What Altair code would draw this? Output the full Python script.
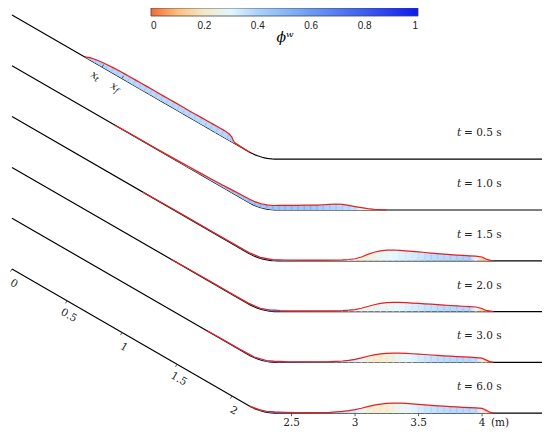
import math
import altair as alt
import pandas as pd

# ---------------- values ----------------
times = ["0.5", "1.0", "1.5", "2.0", "3.0", "6.0"]

incline_deg = 30.0      # slope angle
incline_len = 2.15      # m, straight part of the bed
arc_radius = 0.45       # m, transition radius
bed_len = 4.51          # m, bed length (arc length)
profile_gap = 0.40      # m, vertical offset between snapshots

slope_ticks = [0.0, 0.5, 1.0, 1.5, 2.0]
slope_labels = ["0", "0.5", "1", "1.5", "2"]
flat_ticks = [2.5, 3.0, 3.5, 4.0]
flat_labels = ["2.5", "3", "3.5", "4"]
unit_label = "(m)"

marker_s = [0.82, 1.00]          # x_t and x_f on the t = 0.5 s bed
marker_sub = ["t", "f"]

cbar_values = [0, 0.2, 0.4, 0.6, 0.8, 1]
cmap_pos = [0.0, 0.1, 0.2, 0.3, 0.4, 0.5, 0.6, 0.8, 1.0]
cmap_col = ["#f26a33", "#fbbf7e", "#f3e9c8", "#e2f6fd", "#a9d2fa",
            "#8ab7f7", "#6a9bf3", "#3c5df2", "#0b1af5"]

# snapshot t = 0.5 s  (s along bed [m], thickness h [m], water fraction phi)
s_05 = [0.66, 0.70, 0.75, 0.80, 0.85, 0.90, 0.95, 1.00, 1.05, 1.10, 1.15, 1.20,
        1.25, 1.30, 1.35, 1.40, 1.45, 1.50, 1.55, 1.60, 1.65, 1.70, 1.75, 1.80,
        1.85, 1.90, 1.95, 1.98, 2.00, 2.02, 2.08, 2.16]
h_05 = [0.0, 0.016, 0.026, 0.032, 0.036, 0.039, 0.041, 0.042, 0.043, 0.043, 0.044, 0.044,
        0.044, 0.044, 0.044, 0.045, 0.045, 0.045, 0.045, 0.045, 0.046, 0.046, 0.047, 0.047,
        0.048, 0.048, 0.044, 0.034, 0.018, 0.006, 0.004, 0.0]
p_05 = [0.45, 0.45, 0.44, 0.44, 0.43, 0.43, 0.43, 0.42, 0.42, 0.42, 0.42, 0.42,
        0.42, 0.42, 0.42, 0.42, 0.42, 0.42, 0.42, 0.42, 0.42, 0.42, 0.42, 0.42,
        0.43, 0.43, 0.44, 0.45, 0.45, 0.45, 0.45, 0.45]

# snapshot t = 1.0 s
s_10 = [0.94, 1.10, 1.30, 1.50, 1.60, 1.70, 1.80, 1.90, 1.95, 2.00, 2.05, 2.10,
        2.15, 2.20, 2.25, 2.30, 2.35, 2.40, 2.45, 2.50, 2.55, 2.60, 2.65, 2.70,
        2.75, 2.80, 2.85, 2.90, 2.95, 3.00, 3.05, 3.10, 3.15, 3.20, 3.25]
h_10 = [0.0, 0.003, 0.004, 0.006, 0.008, 0.010, 0.013, 0.016, 0.018, 0.020, 0.022, 0.024,
        0.026, 0.028, 0.030, 0.032, 0.034, 0.036, 0.037, 0.037, 0.037, 0.038, 0.038, 0.039,
        0.041, 0.044, 0.047, 0.044, 0.036, 0.027, 0.018, 0.010, 0.005, 0.003, 0.0]
p_10 = [0.50, 0.50, 0.50, 0.50, 0.50, 0.50, 0.50, 0.50, 0.50, 0.50, 0.50, 0.50,
        0.52, 0.52, 0.52, 0.52, 0.52, 0.52, 0.52, 0.52, 0.52, 0.52, 0.52, 0.50,
        0.48, 0.46, 0.45, 0.42, 0.40, 0.38, 0.30, 0.20, 0.12, 0.10, 0.10]

# snapshot t = 1.5 s
s_15 = [1.19, 1.40, 1.60, 1.80, 2.00, 2.15, 2.25, 2.35, 2.45, 2.60, 2.75, 2.90,
        2.95, 3.00, 3.05, 3.10, 3.15, 3.20, 3.25, 3.30, 3.35, 3.40, 3.45, 3.50,
        3.55, 3.60, 3.65, 3.70, 3.75, 3.80, 3.85, 3.90, 3.95, 4.00, 4.03, 4.06, 4.09]
h_15 = [0.0, 0.003, 0.004, 0.004, 0.005, 0.006, 0.007, 0.008, 0.006, 0.005, 0.005, 0.007,
        0.010, 0.016, 0.030, 0.050, 0.067, 0.078, 0.084, 0.085, 0.082, 0.078, 0.074, 0.070,
        0.065, 0.060, 0.056, 0.052, 0.048, 0.045, 0.042, 0.039, 0.037, 0.030, 0.014, 0.005, 0.0]
p_15 = [0.70, 0.70, 0.70, 0.70, 0.72, 0.75, 0.75, 0.75, 0.70, 0.60, 0.50, 0.40,
        0.30, 0.22, 0.20, 0.22, 0.26, 0.28, 0.29, 0.30, 0.32, 0.33, 0.34, 0.36,
        0.38, 0.40, 0.41, 0.42, 0.43, 0.44, 0.45, 0.45, 0.30, 0.12, 0.10, 0.10, 0.10]

# snapshot t = 2.0 s
s_20 = [1.45, 1.60, 1.80, 2.00, 2.15, 2.25, 2.33, 2.37, 2.41, 2.50, 2.65, 2.80,
        2.90, 2.95, 3.00, 3.05, 3.10, 3.15, 3.20, 3.25, 3.30, 3.35, 3.40, 3.45,
        3.50, 3.55, 3.60, 3.65, 3.70, 3.75, 3.80, 3.85, 3.90, 3.95, 4.00, 4.03, 4.09]
h_20 = [0.0, 0.003, 0.004, 0.004, 0.005, 0.006, 0.009, 0.012, 0.007, 0.005, 0.005, 0.006,
        0.008, 0.011, 0.016, 0.026, 0.040, 0.054, 0.064, 0.070, 0.073, 0.072, 0.070, 0.067,
        0.064, 0.061, 0.058, 0.055, 0.051, 0.048, 0.045, 0.042, 0.039, 0.036, 0.024, 0.009, 0.0]
p_20 = [0.70, 0.70, 0.70, 0.72, 0.75, 0.78, 0.80, 0.80, 0.75, 0.65, 0.55, 0.45,
        0.38, 0.32, 0.30, 0.28, 0.27, 0.27, 0.28, 0.28, 0.29, 0.30, 0.32, 0.34,
        0.35, 0.37, 0.38, 0.40, 0.41, 0.42, 0.42, 0.43, 0.43, 0.30, 0.12, 0.10, 0.10]

# snapshot t = 3.0 s
s_30 = [1.77, 1.90, 2.05, 2.20, 2.30, 2.36, 2.40, 2.45, 2.55, 2.70, 2.80, 2.85,
        2.90, 2.95, 3.00, 3.05, 3.10, 3.15, 3.20, 3.25, 3.30, 3.35, 3.40, 3.45,
        3.50, 3.55, 3.60, 3.65, 3.70, 3.75, 3.80, 3.85, 3.90, 3.95, 4.00, 4.03, 4.06, 4.09]
h_30 = [0.0, 0.003, 0.004, 0.005, 0.007, 0.009, 0.008, 0.006, 0.005, 0.005, 0.006, 0.008,
        0.011, 0.016, 0.024, 0.035, 0.048, 0.059, 0.067, 0.071, 0.073, 0.073, 0.071, 0.068,
        0.065, 0.062, 0.058, 0.055, 0.052, 0.049, 0.046, 0.043, 0.041, 0.038, 0.033, 0.020, 0.006, 0.0]
p_30 = [0.75, 0.75, 0.75, 0.78, 0.80, 0.82, 0.80, 0.75, 0.65, 0.55, 0.48, 0.42,
        0.40, 0.38, 0.35, 0.28, 0.22, 0.20, 0.20, 0.21, 0.23, 0.27, 0.29, 0.31,
        0.34, 0.36, 0.38, 0.39, 0.40, 0.41, 0.42, 0.42, 0.42, 0.40, 0.25, 0.15, 0.12, 0.12]

# snapshot t = 6.0 s
s_60 = [2.16, 2.24, 2.30, 2.36, 2.40, 2.45, 2.55, 2.70, 2.80, 2.85,
        2.90, 2.95, 3.00, 3.05, 3.10, 3.15, 3.20, 3.25, 3.30, 3.35, 3.40, 3.45,
        3.50, 3.55, 3.60, 3.65, 3.70, 3.75, 3.80, 3.85, 3.90, 3.95, 4.00, 4.03, 4.06, 4.09]
h_60 = [0.0, 0.005, 0.007, 0.010, 0.009, 0.007, 0.005, 0.005, 0.007, 0.010,
        0.014, 0.020, 0.028, 0.039, 0.052, 0.064, 0.072, 0.077, 0.079, 0.079, 0.077, 0.074,
        0.070, 0.066, 0.062, 0.058, 0.055, 0.052, 0.049, 0.046, 0.044, 0.042, 0.038, 0.024, 0.008, 0.0]
p_60 = [0.80, 0.80, 0.82, 0.85, 0.82, 0.78, 0.65, 0.55, 0.48, 0.42,
        0.40, 0.38, 0.35, 0.28, 0.22, 0.20, 0.20, 0.21, 0.23, 0.27, 0.29, 0.31,
        0.34, 0.36, 0.38, 0.39, 0.40, 0.41, 0.42, 0.42, 0.42, 0.40, 0.25, 0.15, 0.12, 0.12]

snapshots = [(s_05, h_05, p_05), (s_10, h_10, p_10), (s_15, h_15, p_15),
             (s_20, h_20, p_20), (s_30, h_30, p_30), (s_60, h_60, p_60)]

# ---------------- geometry of the bed ----------------
th = math.radians(incline_deg)
R = arc_radius
s1 = incline_len
s2 = s1 + R * th
E = (s1 * math.cos(th), -s1 * math.sin(th))
C = (E[0] + R * math.sin(th), E[1] + R * math.cos(th))
X2, Y2 = C[0], C[1] - R


def bed(s):
    if s <= s1:
        return s * math.cos(th), -s * math.sin(th), th
    if s <= s2:
        a = th - (s - s1) / R
        return C[0] - R * math.sin(a), C[1] - R * math.cos(a), a
    return X2 + (s - s2), Y2, 0.0


def bed_y_at(x):
    if x <= E[0]:
        return -x * math.tan(th)
    if x <= X2:
        return C[1] - math.sqrt(max(R * R - (x - C[0]) ** 2, 0.0))
    return Y2


def hex2rgb(h):
    h = h.lstrip("#")
    return [int(h[i:i + 2], 16) for i in (0, 2, 4)]


def cmap(v, light=0.0):
    v = min(max(v, 0.0), 1.0)
    for i in range(len(cmap_pos) - 1):
        if v <= cmap_pos[i + 1]:
            f = (v - cmap_pos[i]) / (cmap_pos[i + 1] - cmap_pos[i])
            a, b = hex2rgb(cmap_col[i]), hex2rgb(cmap_col[i + 1])
            c = [a[j] + (b[j] - a[j]) * f for j in range(3)]
            break
    c = [x + (255 - x) * light for x in c]
    return "#%02x%02x%02x" % tuple(int(round(x)) for x in c)


K = 127.0  # px per metre
x_dom = [-4 / K, -4 / K + 534 / K]
y_dom = [261 / K - 421 / K, 261 / K]
xs = alt.Scale(domain=x_dom, nice=False, zero=False)
ys = alt.Scale(domain=y_dom, nice=False, zero=False)
X = lambda f="X": alt.X(f"{f}:Q", scale=xs, axis=None)
Y = lambda f="Y": alt.Y(f"{f}:Q", scale=ys, axis=None)

# ---------------- tables ----------------
bed_s = [0.0, s1] + [s1 + R * th * i / 12 for i in range(1, 13)] + [bed_len]
bed_rows, surf_rows, stripe_rows = [], [], []
area_layers = []
for k, (tname, (ss, hh, pp)) in enumerate(zip(times, snapshots)):
    yoff = (len(times) - 1 - k) * profile_gap
    for i, s in enumerate(bed_s):
        bx, by, a = bed(s)
        bed_rows.append({"p": tname, "o": i, "X": bx, "Y": by + yoff})
    arows = []
    for i, (s, h, p) in enumerate(zip(ss, hh, pp)):
        bx, by, a = bed(s)
        px, py = bx + h * math.sin(a), by + h * math.cos(a)
        surf_rows.append({"p": tname, "o": i, "X": px, "Y": py + yoff})
        arows.append({"X": px, "Y": py + yoff, "B": bed_y_at(px) + yoff, "phi": p})
        if h >= 0.008:
            stripe_rows.append({"p": tname, "X": bx, "Y": by + yoff,
                                "X2": px, "Y2": py + yoff, "phi": p})
    xmin = min(r["X"] for r in arows)
    xmax = max(r["X"] for r in arows)
    stops = [alt.GradientStop(offset=(r["X"] - xmin) / (xmax - xmin),
                              color=cmap(r["phi"], 0.25)) for r in arows]
    grad = alt.Gradient(gradient="linear", stops=stops, x1=0, x2=1, y1=0, y2=0)
    area_layers.append(
        alt.Chart(pd.DataFrame(arows)).mark_area(color=grad, line=False)
        .encode(x=X(), y=Y(), y2="B:Q")
    )

bed_df = pd.DataFrame(bed_rows)
surf_df = pd.DataFrame(surf_rows)
stripe_df = pd.DataFrame(stripe_rows)

# ticks and labels on the lowest profile
tick_rows, slope_lab_rows, flat_lab_rows = [], [], []
for s, lab in zip(slope_ticks, slope_labels):
    bx, by, a = bed(s)
    tick_rows.append({"X": bx, "Y": by, "X2": bx - 3 / K * math.sin(a), "Y2": by - 3 / K * math.cos(a)})
    slope_lab_rows.append({"X": bx - 12 / K * math.sin(a) + 9 / K * math.cos(a),
                           "Y": by - 12 / K * math.cos(a) - 9 / K * math.sin(a), "t": lab})
for s, lab in zip(flat_ticks, flat_labels):
    bx, by, a = bed(s)
    tick_rows.append({"X": bx, "Y": by, "X2": bx, "Y2": by - 3 / K})
    flat_lab_rows.append({"X": bx, "Y": by - 10 / K, "t": lab})
bx4, by4, _ = bed(flat_ticks[-1])
unit_df = pd.DataFrame([{"X": bx4 + 18 / K, "Y": by4 - 10 / K, "t": unit_label}])

# x_t / x_f markers on top profile
top_off = (len(times) - 1) * profile_gap
mk_main, mk_sub = [], []
for s, sub in zip(marker_s, marker_sub):
    bx, by, a = bed(s)
    by += top_off
    tick_rows.append({"X": bx, "Y": by, "X2": bx + 3 / K * math.sin(a), "Y2": by + 3 / K * math.cos(a)})
    cx = bx - 11 / K * math.sin(a) - 3 / K * math.cos(a)
    cy = by - 11 / K * math.cos(a) + 3 / K * math.sin(a)
    mk_main.append({"X": cx, "Y": cy, "t": "x"})
    mk_sub.append({"X": cx + 4.5 / K * math.cos(a) - 3 / K * math.sin(a),
                   "Y": cy - 4.5 / K * math.sin(a) - 3 / K * math.cos(a), "t": sub})

# time labels
tl_t, tl_rest = [], []
for k, tname in enumerate(times):
    yoff = (len(times) - 1 - k) * profile_gap
    tl_t.append({"X": (459 - 12) / K, "Y": Y2 + yoff + 26 / K, "t": "t"})
    tl_rest.append({"X": (464 - 12) / K, "Y": Y2 + yoff + 26 / K, "t": "= " + tname + " s"})

serif = "DejaVu Serif"
sans = "Liberation Sans"

bed_layer = alt.Chart(bed_df).mark_line(color="black", strokeWidth=1.2).encode(
    x=X(), y=Y(), detail="p:N", order="o:Q")

stripe_layer = alt.Chart(stripe_df).mark_rule(strokeWidth=1.4).encode(
    x=X(), y=Y(), x2="X2:Q", y2="Y2:Q",
    color=alt.Color("phi:Q",
                    scale=alt.Scale(domain=cmap_pos, range=cmap_col, interpolate="rgb"),
                    legend=alt.Legend(orient="none", legendX=143, legendY=0,
                                      direction="horizontal", gradientLength=267,
                                      gradientThickness=8, title="ϕʷ", titleOrient="bottom",
                                      titleAnchor="middle", titleFont=serif,
                                      titleFontStyle="italic", titleFontSize=14,
                                      titleFontWeight="normal", titlePadding=0,
                                      values=cbar_values, format="~g", labelAlign="center",
                                      labelFont=sans, labelFontSize=10,
                                      labelColor="#222", labelOffset=5, padding=0,
                                      gradientStrokeColor="#444", gradientStrokeWidth=0.8)))

surf_layer = alt.Chart(surf_df).mark_line(color="#e81e1e", strokeWidth=1.2).encode(
    x=X(), y=Y(), detail="p:N", order="o:Q")

tick_layer = alt.Chart(pd.DataFrame(tick_rows)).mark_rule(color="#333", strokeWidth=0.8).encode(
    x=X(), y=Y(), x2="X2:Q", y2="Y2:Q")

slope_text = alt.Chart(pd.DataFrame(slope_lab_rows)).mark_text(
    font=serif, fontSize=10.5, angle=30, align="center", baseline="middle", color="#222"
).encode(x=X(), y=Y(), text="t:N")

flat_text = alt.Chart(pd.DataFrame(flat_lab_rows)).mark_text(
    font=serif, fontSize=10.5, align="center", baseline="middle", color="#222"
).encode(x=X(), y=Y(), text="t:N")

unit_text = alt.Chart(unit_df).mark_text(
    font=serif, fontSize=10.5, align="center", baseline="middle", color="#222"
).encode(x=X(), y=Y(), text="t:N")

mk_text = alt.Chart(pd.DataFrame(mk_main)).mark_text(
    font=serif, fontSize=11, fontStyle="italic", angle=30, align="center", baseline="middle",
    color="#222").encode(x=X(), y=Y(), text="t:N")
mk_sub_text = alt.Chart(pd.DataFrame(mk_sub)).mark_text(
    font=serif, fontSize=8, fontStyle="italic", angle=30, align="center", baseline="middle",
    color="#222").encode(x=X(), y=Y(), text="t:N")

t_text = alt.Chart(pd.DataFrame(tl_t)).mark_text(
    font=serif, fontSize=10.5, fontStyle="italic", align="center", baseline="middle",
    color="#222").encode(x=X(), y=Y(), text="t:N")
rest_text = alt.Chart(pd.DataFrame(tl_rest)).mark_text(
    font=serif, fontSize=10.5, align="left", baseline="middle", color="#222"
).encode(x=X(), y=Y(), text="t:N")

chart = alt.layer(
    bed_layer, *area_layers, stripe_layer, surf_layer, tick_layer,
    slope_text, flat_text, unit_text, mk_text, mk_sub_text, t_text, rest_text
).properties(
    width=534, height=421, autosize="none", padding=0
).configure_view(stroke=None)

chart.save("out.html", embed_options={"renderer": "svg", "actions": False})
